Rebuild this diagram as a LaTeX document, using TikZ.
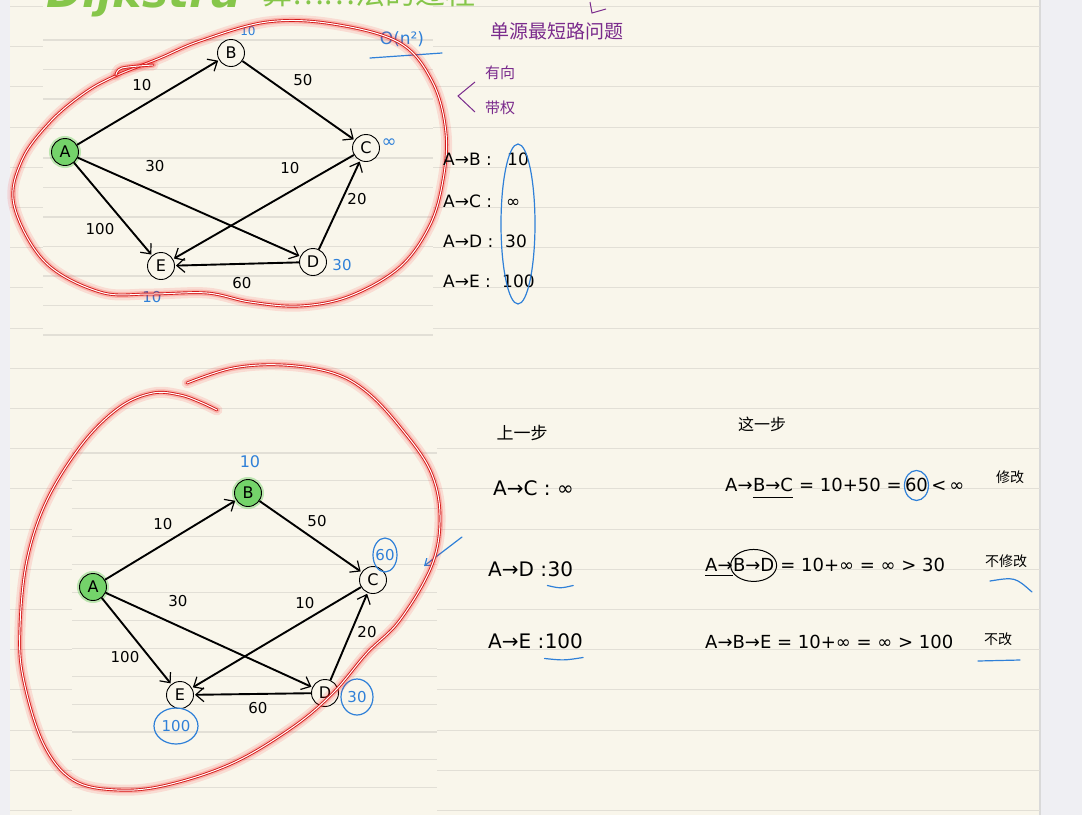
\documentclass[tikz,border=0pt]{standalone}
\usepackage{fontspec}
\setmainfont{DejaVu Sans}
\newfontfamily\cjk{Noto Sans CJK SC}
\usetikzlibrary{arrows.meta,shapes.geometric}
\definecolor{paper}{HTML}{F9F6EB}
\definecolor{ruleline}{HTML}{E2DFD6}
\definecolor{margin}{HTML}{EFEFF3}
\definecolor{inkblue}{HTML}{2F80D8}
\definecolor{inkpurple}{HTML}{7A2A8C}
\definecolor{titlegreen}{HTML}{86C64A}
\definecolor{hlgreen}{HTML}{74D36A}
\definecolor{loopred}{HTML}{D41A1A}
\tikzset{
  vtx/.style={circle,draw=black,line width=0.9pt,minimum size=27pt,inner sep=0pt,fill=paper,font=\fontsize{16}{16}\selectfont},
  src/.style={vtx,fill=hlgreen,preaction={draw=hlgreen,line width=5pt,opacity=0.45}},
  edge/.style={line width=1.9pt,-{Straight Barb[length=8pt,width=14pt,line width=1.2pt]},shorten >=1pt},
  wt/.style={font=\fontsize{15}{15}\selectfont,inner sep=0pt},
  bl/.style={text=inkblue,font=\fontsize{15}{15}\selectfont,inner sep=0pt},
  rl/.style={draw=ruleline,line width=1.1pt},
  redloop/.style={draw=loopred,line width=0.9pt,double=white,double distance=1pt,line cap=round,
     preaction={draw=red,line width=11pt,opacity=0.10,line cap=round},
     preaction={draw=red,line width=6pt,opacity=0.18,line cap=round}},
  txt/.style={font=\fontsize{18}{18}\selectfont,inner sep=0pt,anchor=base west},
  ltxt/.style={font=\fontsize{17}{17}\selectfont,inner sep=0pt,anchor=base west},
  cj/.style={font=\cjk\fontsize{16}{16}\selectfont,inner sep=0pt},
  blueink/.style={draw=inkblue,line width=1.2pt,line cap=round}
}
\begin{document}
\begin{tikzpicture}[x=1pt,y=-1pt]
\useasboundingbox (0,0) rectangle (1082,815);
\clip (0,0) rectangle (1082,815);
% paper
\fill[paper] (0,0) rectangle (1082,815);
\fill[margin] (0,0) rectangle (10,815);
\fill[margin] (1040,0) rectangle (1082,815);
\draw[gray!30,line width=1.2pt] (1040,0) -- (1040,815);
\foreach \k in {0,...,20} \draw[rl] (10,{6.5+40.2*\k}) -- (1040,{6.5+40.2*\k});
\fill[paper] (43,0) rectangle (433,365);
\foreach \k in {0,...,10} \draw[rl] (43,{40+29.5*\k}) -- (433,{40+29.5*\k});
\fill[paper] (72,412) rectangle (437,815);
\foreach \k in {0,...,12} \draw[rl] (72,{453+27.9*\k}) -- (437,{453+27.9*\k});

% title (cut off at the top edge, as in the note)
\node[anchor=base west,text=titlegreen,font=\fontsize{44}{44}\selectfont\bfseries\itshape,inner sep=0pt] (title) at (46,7) {Dijkstra};
\node[anchor=base west,text=titlegreen,font=\cjk\fontsize{30}{30}\selectfont,inner sep=0pt] (title2) at (262,4) {算……法的过程};

% ===== top graph =====
\node[src] (A1) at (65,152) {A};
\node[vtx] (B1) at (231,53) {B};
\node[vtx] (C1) at (366,148) {C};
\node[vtx] (D1) at (313,262) {D};
\node[vtx] (E1) at (161,266) {E};
\draw[edge] (A1) -- (B1);
\draw[edge] (B1) -- (C1);
\draw[edge] (A1) -- (D1);
\draw[edge] (C1) -- (E1);
\draw[edge] (D1) -- (C1);
\draw[edge] (A1) -- (E1);
\draw[edge] (D1) -- (E1);
\node[wt] (w1ab) at (142,85) {10};
\node[wt] (w1bc) at (303,80) {50};
\node[wt] (w1ad) at (155,166) {30};
\node[wt] (w1ce) at (290,168) {10};
\node[wt] (w1dc) at (357,199) {20};
\node[wt] (w1ae) at (100,229) {100};
\node[wt] (w1de) at (242,283) {60};
\node[bl,font=\fontsize{12}{12}\selectfont] (d1b) at (248,31) {10};
\node[bl,font=\fontsize{18}{18}\selectfont] (d1c) at (389,143) {∞};
\node[bl] (d1d) at (342,265) {30};
\node[bl] (d1e) at (152,297) {10};
\node[bl,font=\fontsize{17}{17}\selectfont] (big) at (402,39) {O(n²)};
\draw[blueink] (370,58) -- (442,53);

% ===== bottom graph =====
\node[src] (A2) at (93,587) {A};
\node[src] (B2) at (248,493) {B};
\node[vtx] (C2) at (373,580) {C};
\node[vtx] (D2) at (325,693) {D};
\node[vtx] (E2) at (180,695) {E};
\draw[edge] (A2) -- (B2);
\draw[edge] (B2) -- (C2);
\draw[edge] (A2) -- (D2);
\draw[edge] (C2) -- (E2);
\draw[edge] (D2) -- (C2);
\draw[edge] (A2) -- (E2);
\draw[edge] (D2) -- (E2);
\node[wt] (w2ab) at (163,524) {10};
\node[wt] (w2bc) at (317,521) {50};
\node[wt] (w2ad) at (178,601) {30};
\node[wt] (w2ce) at (305,603) {10};
\node[wt] (w2dc) at (367,632) {20};
\node[wt] (w2ae) at (125,657) {100};
\node[wt] (w2de) at (258,708) {60};
\node[bl,font=\fontsize{16}{16}\selectfont] (d2b) at (250,462) {10};
\node[bl] (d2c) at (385,555) {60};
\draw[blueink] (d2c.center) ellipse [x radius=12, y radius=17];
\node[bl] (d2d) at (357,697) {30};
\draw[blueink] (d2d.center) ellipse [x radius=16, y radius=18];
\node[bl] (d2e) at (176,726) {100};
\draw[blueink] (d2e.center) ellipse [x radius=22, y radius=18];
\coordinate (ba1) at (462,537);
\coordinate (ba2) at (424,566);
\draw[blueink,-{Straight Barb[length=6pt,width=9pt]}] (ba1) -- (ba2);

% ===== red loops =====
\draw[redloop] plot[smooth cycle,tension=0.6] coordinates {(113,77) (160,58) (200,41) (267,22) (333,24) (400,43) (433,83) (446,133) (443,180) (430,225) (400,267) (350,296) (300,306) (250,302) (207,293) (150,294) (100,292) (45,262) (14,205) (22,160) (50,122) (83,94)};
\draw[redloop] plot[smooth,tension=0.55] coordinates {(116,75) (122,68) (153,65)};
\draw[redloop] plot[smooth,tension=0.6] coordinates {(187,383) (233,368) (283,365) (333,373) (367,392) (400,427) (430,470) (440,515) (432,565) (400,620) (367,653) (333,693) (293,727) (233,763) (167,785) (117,790) (73,780) (43,743) (23,677) (20,627) (27,560) (47,500) (83,443) (120,407) (153,393) (180,395) (200,402) (217,410)};

% ===== top right notes =====
\node[cj,text=inkpurple,font=\cjk\fontsize{19}{19}\selectfont] (q) at (557,31) {单源最短路问题};
\coordinate (m1) at (590,2); \coordinate (m2) at (592,13); \coordinate (m3) at (606,9);
\draw[draw=inkpurple,line width=1pt] (m1) -- (m2) -- (m3);
\node[cj,text=inkpurple,font=\cjk\fontsize{15}{15}\selectfont] (dir) at (500,73) {有向};
\node[cj,text=inkpurple,font=\cjk\fontsize{15}{15}\selectfont] (wgt) at (500,108) {带权};
\coordinate (k1) at (475,82); \coordinate (k2) at (458,96); \coordinate (k3) at (475,112);
\draw[draw=inkpurple,line width=1pt] (k1) -- (k2) -- (k3);

\node[ltxt] (t1) at (443,165) {A→B :};
\node[ltxt] (v1) at (507,165) {10};
\node[ltxt] (t2) at (443,207) {A→C :};
\node[ltxt] (v2) at (506,207) {∞};
\node[ltxt] (t3) at (443,247) {A→D :};
\node[ltxt] (v3) at (505,247) {30};
\node[ltxt] (t4) at (443,287) {A→E :};
\node[ltxt] (v4) at (502,287) {100};
\draw[blueink] (518,224) ellipse [x radius=17, y radius=80];

% ===== bottom right notes =====
\node[cj,font=\cjk\fontsize{17}{17}\selectfont] (prev) at (522,433) {上一步};
\node[cj,font=\cjk\fontsize{16}{16}\selectfont] (this) at (762,424) {这一步};

% row 1
\node[txt,font=\fontsize{20}{20}\selectfont] (l1) at (493,495) {A→C : ∞};
\node[txt] (r1a) at (725,491) {A→};
\node[txt] (r1b) at (r1a.base east) {B→C};
\node[txt] (r1c) at (r1b.base east) {\ =\ 10+50\ =\,};
\node[txt] (r1d) at (r1c.base east) {60};
\node[txt] (r1e) at (r1d.base east) {\,<\,∞};
\draw[line width=1pt] ([yshift=-6pt]r1b.south west) -- ([yshift=-6pt]r1b.south east);
\draw[blueink] ([yshift=-1pt]r1d.center) ellipse [x radius=12, y radius=15];
\node[cj,font=\cjk\fontsize{14}{14}\selectfont] (fix1) at (1010,477) {修改};

% row 2
\node[txt,font=\fontsize{20}{20}\selectfont] (l2a) at (488,576) {A→D : };
\node[txt,font=\fontsize{20}{20}\selectfont] (l2b) at (l2a.base east) {30};
\draw[blueink] ([yshift=-9pt]l2b.south west) .. controls ([yshift=-12pt]l2b.south) .. ([yshift=-9pt]l2b.south east);
\node[txt] (r2a) at (705,571) {A→};
\node[txt] (r2b) at (r2a.base east) {B→D};
\node[txt] (r2c) at (r2b.base east) {\ =\ 10+∞\ =\ ∞\ >\ 30};
\draw[line width=1pt] ([yshift=-4pt]r2a.south west) -- ([yshift=-4pt]r2a.south east);
\draw[line width=1pt] ([yshift=-1pt]r2b.center) ellipse [x radius=23, y radius=16];
\node[cj,font=\cjk\fontsize{14}{14}\selectfont] (fix2) at (1006,561) {不修改};
\draw[blueink] (990,581) .. controls (1015,577) .. (1032,592);

% row 3
\node[txt,font=\fontsize{20}{20}\selectfont] (l3a) at (488,648) {A→E : };
\node[txt,font=\fontsize{20}{20}\selectfont] (l3b) at (l3a.base east) {100};
\draw[blueink] ([yshift=-10pt]l3b.south west) .. controls ([yshift=-12pt]l3b.south) .. ([yshift=-9pt]l3b.south east);
\node[txt] (r3a) at (705,648) {A→B→E\ =\ 10+∞\ =\ ∞\ >\ 100};
\node[cj,font=\cjk\fontsize{14}{14}\selectfont] (fix3) at (998,639) {不改};
\draw[blueink] (978,661) -- (1020,660);
\end{tikzpicture}
\end{document}
